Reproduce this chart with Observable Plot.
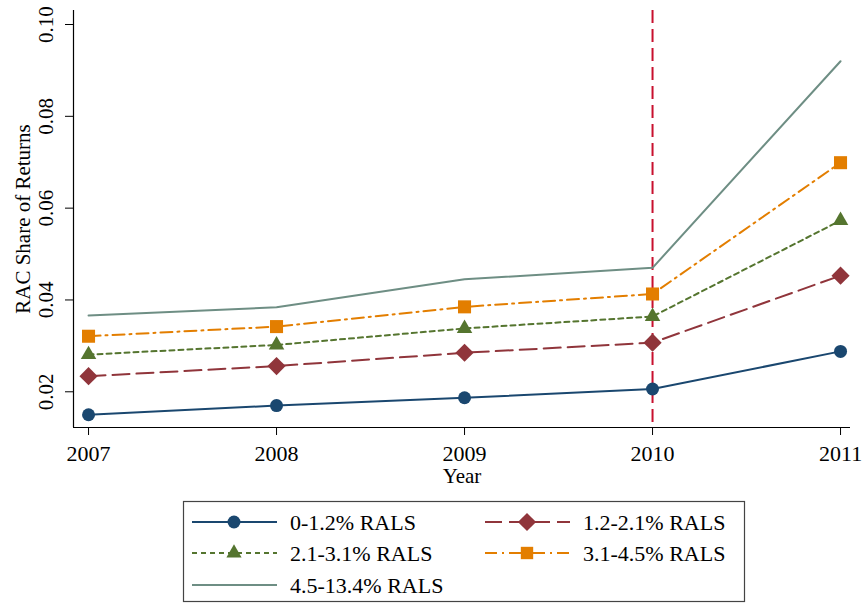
<!DOCTYPE html>
<html>
<head>
<meta charset="utf-8">
<script src="https://cdn.jsdelivr.net/npm/d3@7"></script>
<script src="https://cdn.jsdelivr.net/npm/@observablehq/plot@0.6"></script>
<style>
  html, body { margin: 0; padding: 0; background: #fff; }
  #wrap { position: relative; width: 865px; height: 607px; font-family: "Liberation Serif", "Times New Roman", "DejaVu Serif", serif; }
  #legend { position: absolute; left: 0; top: 490px; }
  svg text { font-family: "Liberation Serif", "Times New Roman", "DejaVu Serif", serif; }
</style>
</head>
<body>
<div id="wrap"><div id="chart"></div><div id="legend"></div></div>
<script>
const years = [2007, 2008, 2009, 2010, 2011];
const seriesNames = ["0-1.2% RALS", "1.2-2.1% RALS", "2.1-3.1% RALS", "3.1-4.5% RALS", "4.5-13.4% RALS"];
const s1 = [0.0150, 0.0170, 0.0187, 0.0206, 0.0288];
const s2 = [0.0234, 0.0256, 0.0285, 0.0307, 0.0453];
const s3 = [0.0281, 0.0302, 0.0338, 0.0364, 0.0573];
const s4 = [0.0321, 0.0342, 0.0385, 0.0413, 0.0699];
const s5 = [0.0366, 0.0384, 0.0445, 0.0470, 0.0920];
const yTicks = [0.02, 0.04, 0.06, 0.08, 0.10];
const xTicks = [2007, 2008, 2009, 2010, 2011];
const markerYear = 2010;

const colors = ["#1a476f", "#90353b", "#55752f", "#e37e00", "#6e8e84"];
const dashes = [null, "17,7", "5,4", "12,5,2,5", null];
const symbols = ["circle", "diamond2", "triangle2", "square2", null];
const allSeries = [s1, s2, s3, s4, s5];

const data = [];
allSeries.forEach((vals, i) => vals.forEach((v, j) => data.push({series: seriesNames[i], idx: i, year: years[j], value: v})));

const font = '"Liberation Serif", "Times New Roman", serif';
const marks = [
  Plot.ruleX([markerYear], {stroke: "#c8102e", strokeWidth: 2, strokeDasharray: "13,6"}),
];
allSeries.forEach((vals, i) => {
  const d = data.filter(r => r.idx === i);
  marks.push(Plot.line(d, {x: "year", y: "value", stroke: colors[i], strokeWidth: 2, strokeDasharray: dashes[i]}));
});
const dotR = [6.5, 8.2, 7.4, 8.3, 0];
allSeries.forEach((vals, i) => {
  if (!symbols[i]) return;
  const d = data.filter(r => r.idx === i);
  marks.push(Plot.dot(d, {x: "year", y: "value", fill: colors[i], stroke: "none", symbol: () => symbols[i], r: dotR[i]}));
});
marks.push(
  Plot.axisX({ticks: xTicks, tickFormat: () => "", tickSize: 8, label: null}),
  Plot.axisY({ticks: yTicks, tickFormat: () => "", tickSize: 8, label: null}),
  Plot.text(xTicks, {x: d => d, text: d => String(d), frameAnchor: "bottom", lineAnchor: "middle", dy: 26, fontSize: 22, fill: "#000"}),
  Plot.text(yTicks, {y: d => d, text: d => d3.format(".2f")(d), frameAnchor: "left", textAnchor: "middle", lineAnchor: "middle", dx: -27, rotate: -90, fontSize: 21, fill: "#000"}),
  Plot.text(["RAC Share of Returns"], {frameAnchor: "left", textAnchor: "middle", lineAnchor: "middle", dx: -50, rotate: -90, fontSize: 21, fill: "#000"}),
  Plot.text(["Year"], {frameAnchor: "bottom", lineAnchor: "middle", dy: 49, fontSize: 21, fill: "#000"}),
  Plot.ruleY([0.01222], {stroke: "#000", strokeWidth: 1.2}),
  Plot.ruleX([2006.92], {stroke: "#000", strokeWidth: 1.2})
);

const chart = Plot.plot({
  width: 865,
  height: 490,
  marginTop: 10,
  marginBottom: 63,
  marginLeft: 73,
  marginRight: 15,
  style: {fontFamily: font, fontSize: "21px", color: "#000", background: "#fff", overflow: "visible"},
  x: {domain: [2006.92, 2011.053], type: "linear"},
  y: {domain: [0.01222, 0.10305]},
  marks
});
document.getElementById("chart").appendChild(chart);

// Legend
const lg = d3.select("#legend").append("svg").attr("width", 865).attr("height", 117)
  .style("font-family", font);
lg.append("rect").attr("x", 183.5).attr("y", 11.5).attr("width", 561).attr("height", 100)
  .attr("fill", "#fff").attr("stroke", "#444").attr("stroke-width", 1.2);
const pos = [[192, 32], [485, 32], [192, 63], [485, 63], [192, 95]];
const symMap = {circle: d3.symbolCircle, diamond2: d3.symbolDiamond2, triangle2: d3.symbolTriangle2, square2: d3.symbolSquare2};
const legSize = [130, 210, 165, 195, 0];
seriesNames.forEach((name, i) => {
  const [x0, y0] = pos[i];
  const g = lg.append("g");
  g.append("line").attr("x1", x0).attr("x2", x0 + 85).attr("y1", y0).attr("y2", y0)
    .attr("stroke", colors[i]).attr("stroke-width", 2).attr("stroke-dasharray", dashes[i]);
  if (symbols[i]) {
    g.append("path").attr("d", d3.symbol(symMap[symbols[i]], legSize[i])()).attr("transform", `translate(${x0 + 42},${y0})`).attr("fill", colors[i]);
  }
  g.append("text").attr("x", x0 + 98).attr("y", y0).attr("dy", "0.35em").attr("font-size", 22).text(name);
});
</script>
</body>
</html>
